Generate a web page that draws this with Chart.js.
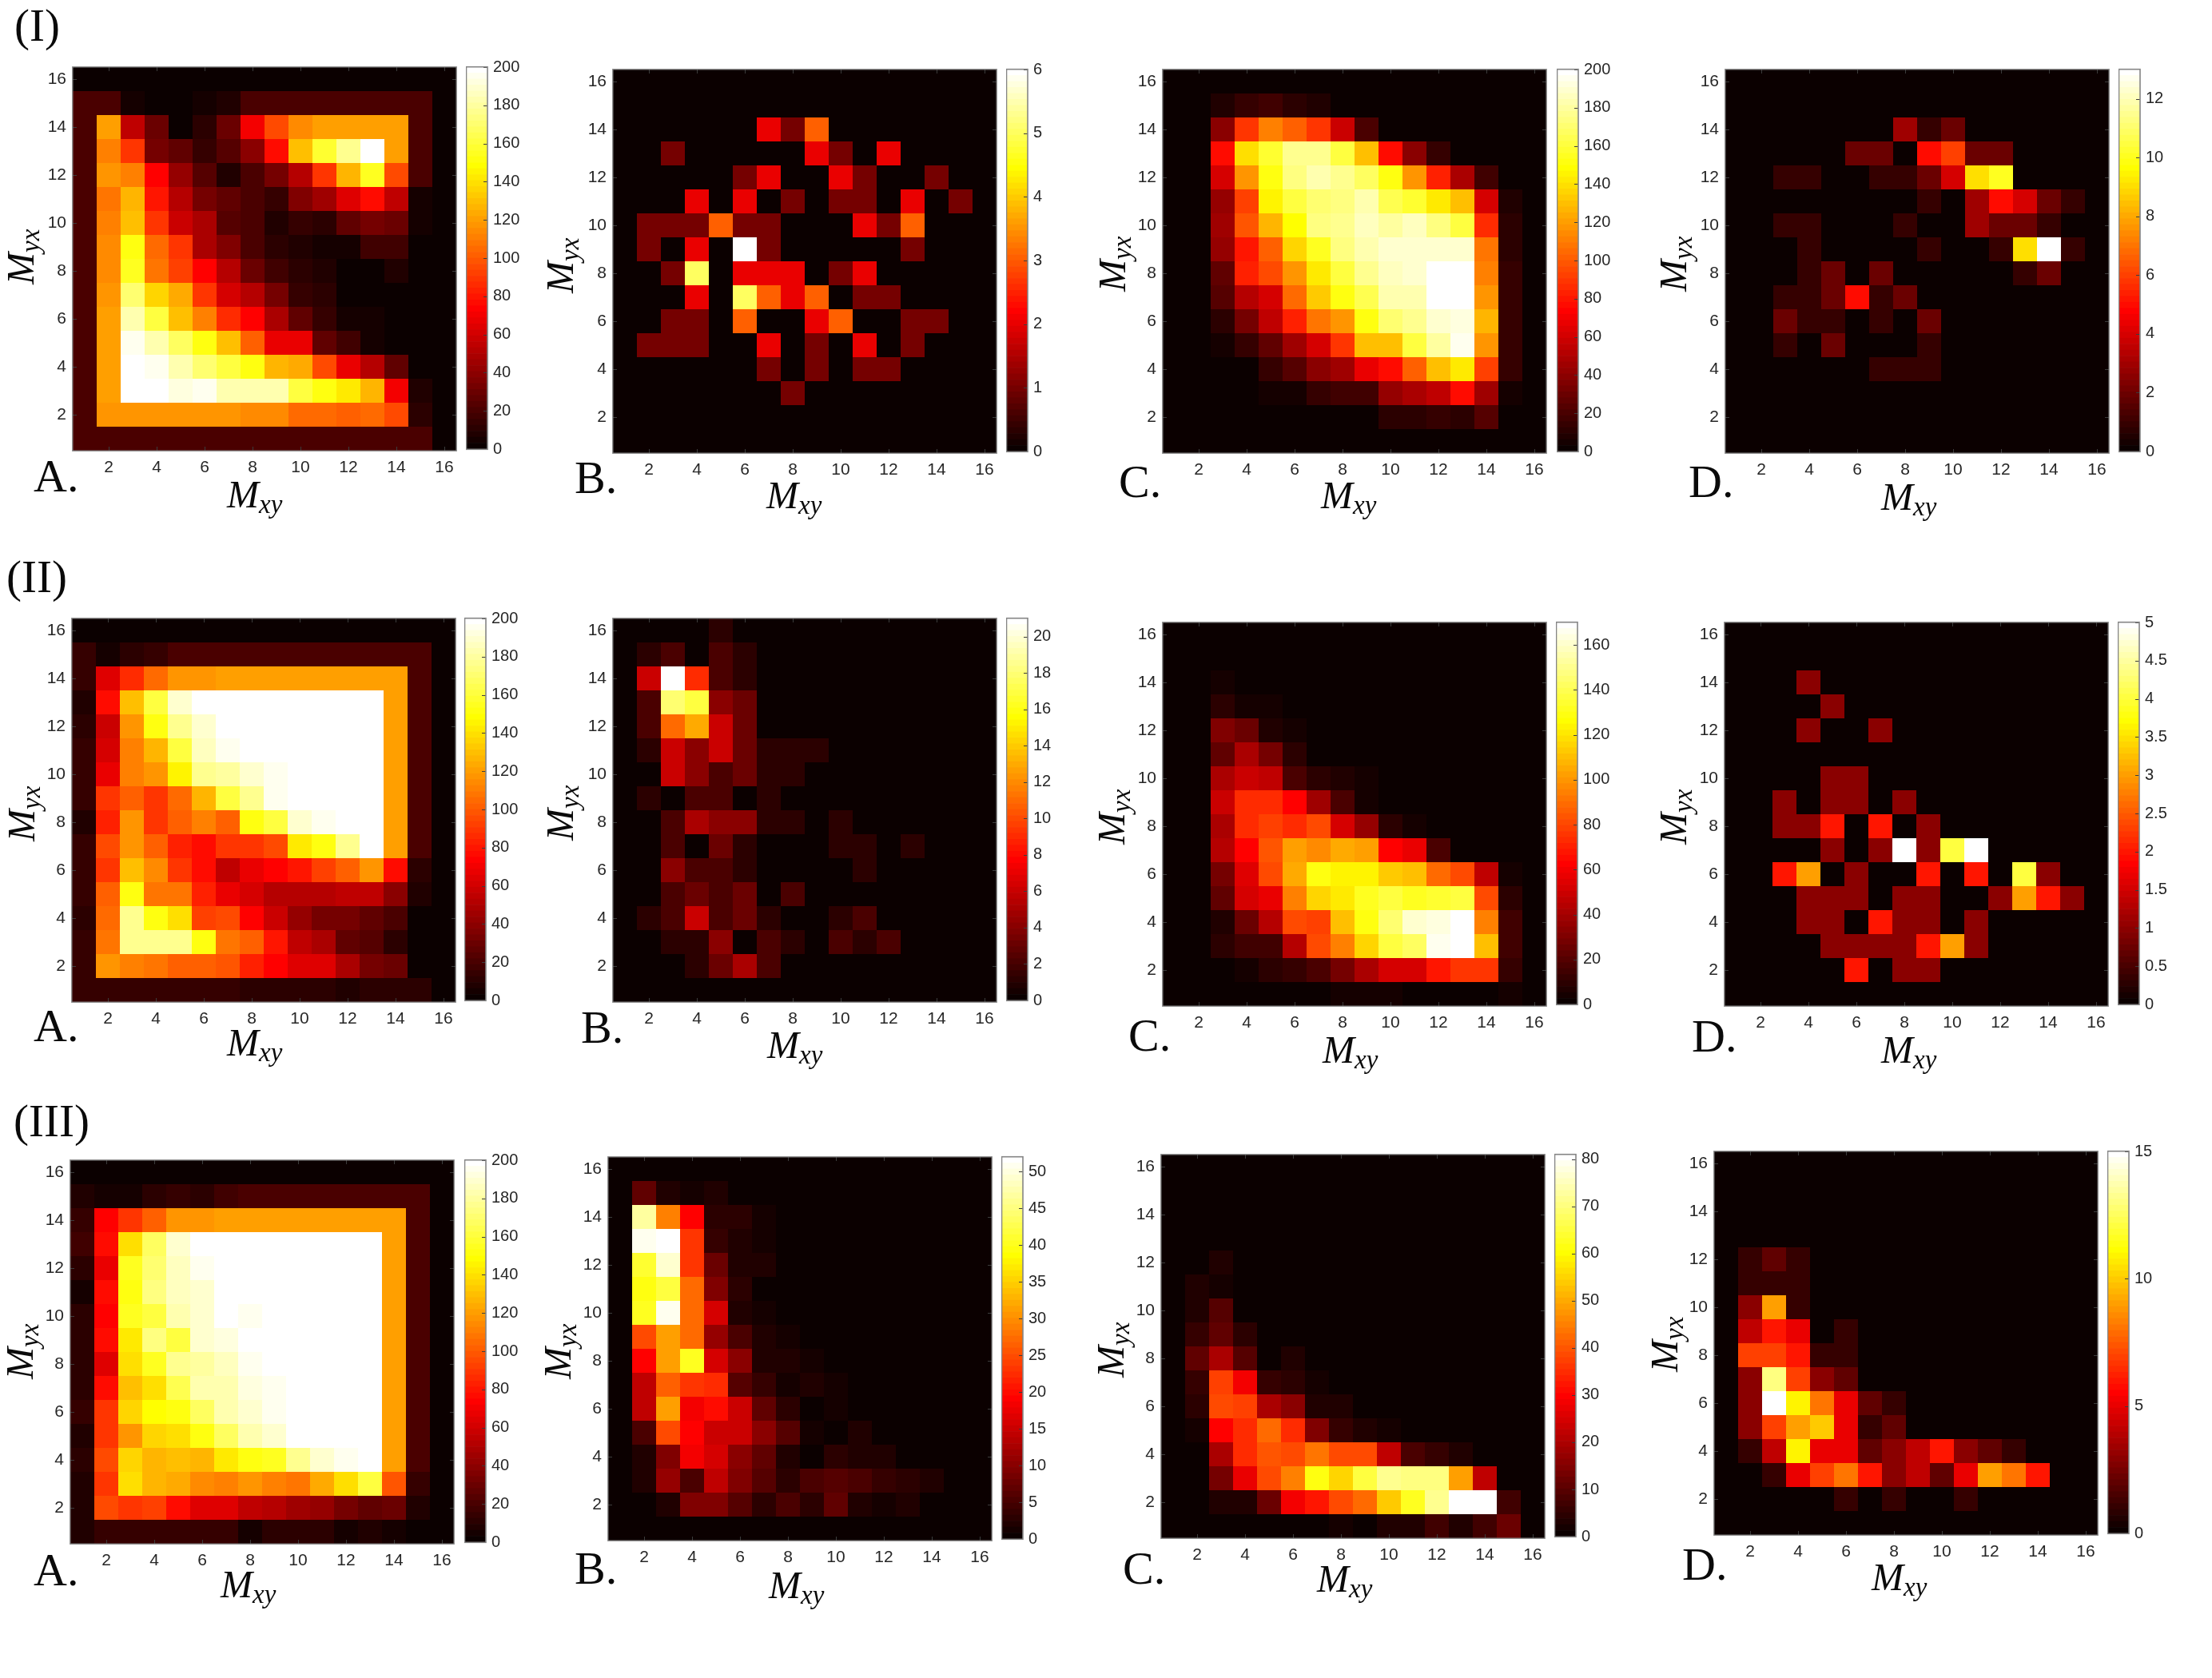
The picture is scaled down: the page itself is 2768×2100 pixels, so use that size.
<!DOCTYPE html>
<html><head><meta charset="utf-8">
<style>
html,body{margin:0;padding:0;background:#fff}
#page{position:relative;width:2768px;height:2100px;overflow:hidden;background:#fff}
canvas{position:absolute}
svg{position:absolute;left:0;top:0}
</style>
<script src="https://cdn.jsdelivr.net/npm/chart.js@4/dist/chart.umd.min.js"></script>
</head><body><div id="page"></div>
<script>
const xCategories = ['1','2','3','4','5','6','7','8','9','10','11','12','13','14','15','16'];
const yTickValues = [2,4,6,8,10,12,14,16];

// Every matrix: rows from Myx=16 (top) down to Myx=1, columns Mxy=1..16
const I_A = [
[2,2,2,2,2,2,2,2,2,2,2,2,2,2,2,2],
[20,20,5,2,2,5,8,20,20,20,20,20,20,20,20,2],
[20,120,55,30,3,10,30,70,95,115,120,120,120,120,20,2],
[20,110,90,32,25,14,22,40,75,130,158,178,200,120,20,2],
[20,118,112,72,42,22,8,20,32,52,88,128,155,95,20,2],
[20,108,125,80,50,32,25,20,14,35,45,64,75,55,5,2],
[20,112,130,88,58,48,24,20,8,14,10,26,32,30,5,2],
[20,115,150,105,90,48,36,20,10,8,5,6,16,16,2,2],
[20,114,155,108,92,72,52,30,16,10,8,2,0,8,2,2],
[20,118,170,135,122,88,60,50,32,14,10,2,0,0,0,0],
[20,120,182,160,130,112,85,72,48,26,14,5,5,0,0,0],
[20,120,194,184,168,152,130,100,68,68,28,18,5,0,0,0],
[20,120,200,196,182,170,160,152,128,122,95,66,52,26,0,0],
[20,120,200,200,192,195,184,182,182,160,152,142,125,70,8,0],
[20,118,118,118,118,118,116,114,114,104,104,100,104,94,12,0],
[20,20,20,20,20,20,20,20,20,20,20,20,20,20,20,2]];
const I_B = [
[0,0,0,0,0,0,0,0,0,0,0,0,0,0,0,0],
[0,0,0,0,0,0,0,0,0,0,0,0,0,0,0,0],
[0,0,0,0,0,0,2,1,3,0,0,0,0,0,0,0],
[0,0,1,0,0,0,0,0,2,1,0,2,0,0,0,0],
[0,0,0,0,0,1,2,0,0,2,1,0,0,1,0,0],
[0,0,0,2,0,2,0,1,0,1,1,0,2,0,1,0],
[0,1,1,1,3,1,1,0,0,0,2,1,3,0,0,0],
[0,1,0,2,0,6,1,0,0,0,0,0,1,0,0,0],
[0,0,1,5,0,2,2,2,0,1,2,0,0,0,0,0],
[0,0,0,2,0,5,3,2,3,0,1,1,0,0,0,0],
[0,0,1,1,0,3,0,0,2,3,0,0,1,1,0,0],
[0,1,1,1,0,0,2,0,1,0,2,0,1,0,0,0],
[0,0,0,0,0,0,1,0,1,0,1,1,0,0,0,0],
[0,0,0,0,0,0,0,1,0,0,0,0,0,0,0,0],
[0,0,0,0,0,0,0,0,0,0,0,0,0,0,0,0],
[0,0,0,0,0,0,0,0,0,0,0,0,0,0,0,0]];
const I_C = [
[0,0,0,0,0,0,0,0,0,0,0,0,0,0,0,0],
[0,0,8,14,18,12,8,0,0,0,0,0,0,0,0,0],
[0,0,38,88,110,102,90,58,20,3,0,0,0,0,0,0],
[0,0,78,140,158,178,176,160,130,76,38,14,0,0,0,0],
[0,0,62,118,150,172,184,176,166,150,118,84,48,16,0,0],
[0,0,42,92,145,160,170,174,182,165,158,142,130,62,8,0],
[0,0,44,98,125,148,172,178,186,180,186,172,162,85,10,0],
[0,0,42,80,100,135,155,172,184,188,190,190,190,108,12,0],
[0,0,28,82,96,118,142,162,176,186,188,197,200,112,14,0],
[0,0,22,50,62,105,132,150,165,182,184,197,200,118,14,0],
[0,0,12,32,55,82,108,118,152,170,176,190,192,125,14,0],
[0,0,5,14,28,45,62,88,130,130,162,180,195,116,14,0],
[0,0,0,0,14,22,38,44,68,76,100,130,142,92,14,0],
[0,0,0,0,5,5,14,16,16,42,48,56,76,46,6,0],
[0,0,0,0,0,0,0,0,3,10,10,14,10,22,0,0],
[0,0,0,0,0,0,0,0,0,0,0,0,0,0,0,0]];
const I_D = [
[0,0,0,0,0,0,0,0,0,0,0,0,0,0,0,0],
[0,0,0,0,0,0,0,0,0,0,0,0,0,0,0,0],
[0,0,0,0,0,0,0,3,1,2,0,0,0,0,0,0],
[0,0,0,0,0,2,2,0,5,6,2,2,0,0,0,0],
[0,0,1,1,0,0,1,1,2,4,9,10,0,0,0,0],
[0,0,0,0,0,0,0,0,1,0,3,5,4,2,1,0],
[0,0,1,1,0,0,0,1,0,0,3,2,2,1,0,0],
[0,0,0,1,0,0,0,0,1,0,0,1,9,13,1,0],
[0,0,0,1,2,0,2,0,0,0,0,0,1,2,0,0],
[0,0,1,1,2,5,1,2,0,0,0,0,0,0,0,0],
[0,0,2,1,1,0,1,0,2,0,0,0,0,0,0,0],
[0,0,1,0,2,0,0,0,1,0,0,0,0,0,0,0],
[0,0,0,0,0,0,1,1,1,0,0,0,0,0,0,0],
[0,0,0,0,0,0,0,0,0,0,0,0,0,0,0,0],
[0,0,0,0,0,0,0,0,0,0,0,0,0,0,0,0],
[0,0,0,0,0,0,0,0,0,0,0,0,0,0,0,0]];
const II_A = [
[2,2,2,2,2,2,2,2,2,2,2,2,2,2,2,2],
[14,5,10,14,20,20,20,20,20,20,20,20,20,20,20,2],
[14,64,85,105,118,118,120,120,120,120,120,120,120,120,20,2],
[8,75,130,162,188,200,200,200,200,200,200,200,200,120,20,2],
[12,58,118,150,178,190,200,200,200,200,200,200,200,120,20,2],
[14,62,110,125,162,185,195,200,200,200,200,200,200,120,20,2],
[14,66,110,118,145,176,180,190,195,200,200,200,200,120,20,2],
[14,88,100,88,105,128,160,178,195,200,200,200,200,120,20,2],
[8,84,118,90,100,110,102,150,162,188,194,200,200,120,20,2],
[14,95,116,100,84,78,90,88,94,142,150,178,200,120,20,2],
[14,90,130,115,90,78,56,68,72,80,92,102,118,78,12,2],
[14,102,150,108,108,84,66,60,50,50,52,54,54,40,8,2],
[10,106,176,152,138,92,96,72,58,42,32,32,28,20,0,0],
[14,108,178,176,176,152,108,100,80,56,48,28,24,10,0,0],
[14,118,112,108,102,102,98,84,72,64,64,48,32,30,0,0],
[14,14,14,14,14,14,14,10,10,10,10,8,10,12,12,0]];
const II_B = [
[0,0,0,0,1,0,0,0,0,0,0,0,0,0,0,0],
[0,1,2,0,2,1,0,0,0,0,0,0,0,0,0,0],
[0,6,21,9,2,1,0,0,0,0,0,0,0,0,0,0],
[0,2,18,17,4,3,0,0,0,0,0,0,0,0,0,0],
[0,2,11,13,6,3,0,0,0,0,0,0,0,0,0,0],
[0,1,6,4,6,3,1,1,1,0,0,0,0,0,0,0],
[0,0,6,4,2,3,1,1,0,0,0,0,0,0,0,0],
[0,1,0,2,2,0,1,0,0,0,0,0,0,0,0,0],
[0,0,2,5,4,4,1,1,0,1,0,0,0,0,0,0],
[0,0,2,0,3,1,0,0,0,1,1,0,1,0,0,0],
[0,0,4,2,2,1,0,0,0,0,1,0,0,0,0,0],
[0,0,2,3,2,3,0,2,0,0,0,0,0,0,0,0],
[0,1,2,6,2,3,1,0,0,1,2,0,0,0,0,0],
[0,0,1,1,4,0,2,1,0,2,1,2,0,0,0,0],
[0,0,0,1,3,5,2,0,0,0,0,0,0,0,0,0],
[0,0,0,0,0,0,0,0,0,0,0,0,0,0,0,0]];
const II_C = [
[0,0,0,0,0,0,0,0,0,0,0,0,0,0,0,0],
[0,0,0,0,0,0,0,0,0,0,0,0,0,0,0,0],
[0,0,3,0,0,0,0,0,0,0,0,0,0,0,0,0],
[0,0,10,3,3,0,0,0,0,0,0,0,0,0,0,0],
[0,0,30,24,7,3,0,0,0,0,0,0,0,0,0,0],
[0,0,22,42,28,8,0,0,0,0,0,0,0,0,0,0],
[0,0,40,50,46,16,8,6,3,0,0,0,0,0,0,0],
[0,0,48,72,72,62,38,18,5,0,0,0,0,0,0,0],
[0,0,40,72,78,72,82,52,36,8,3,0,0,0,0,0],
[0,0,44,62,84,102,96,104,102,62,58,16,0,0,0,0],
[0,0,28,54,82,104,128,124,124,112,110,88,80,46,5,0],
[0,0,22,52,56,94,116,122,132,136,132,134,136,80,8,0],
[0,0,6,26,44,80,78,110,128,146,160,164,170,94,14,0],
[0,0,8,14,14,44,80,94,115,136,142,166,170,110,14,0],
[0,0,0,3,8,12,16,28,40,52,52,68,76,76,12,0],
[0,0,0,0,0,0,0,3,3,4,0,0,0,0,5,0]];
const II_D = [
[0,0,0,0,0,0,0,0,0,0,0,0,0,0,0,0],
[0,0,0,0,0,0,0,0,0,0,0,0,0,0,0,0],
[0,0,0,1,0,0,0,0,0,0,0,0,0,0,0,0],
[0,0,0,0,1,0,0,0,0,0,0,0,0,0,0,0],
[0,0,0,1,0,0,1,0,0,0,0,0,0,0,0,0],
[0,0,0,0,0,0,0,0,0,0,0,0,0,0,0,0],
[0,0,0,0,1,1,0,0,0,0,0,0,0,0,0,0],
[0,0,1,0,1,1,0,1,0,0,0,0,0,0,0,0],
[0,0,1,1,2,0,2,0,1,0,0,0,0,0,0,0],
[0,0,0,0,1,0,1,5,1,4,5,0,0,0,0,0],
[0,0,2,3,0,1,0,0,2,0,2,0,4,1,0,0],
[0,0,0,1,1,1,0,1,1,0,0,1,3,2,1,0],
[0,0,0,1,1,0,2,1,1,0,1,0,0,0,0,0],
[0,0,0,0,1,1,1,1,2,3,1,0,0,0,0,0],
[0,0,0,0,0,2,0,1,1,0,0,0,0,0,0,0],
[0,0,0,0,0,0,0,0,0,0,0,0,0,0,0,0]];
const III_A = [
[2,2,2,2,2,2,2,2,2,2,2,2,2,2,2,2],
[8,5,5,10,14,12,18,20,20,20,20,20,20,20,20,2],
[14,72,88,102,118,118,120,120,120,120,120,120,120,120,20,2],
[16,76,140,168,188,200,200,200,200,200,200,200,200,120,20,2],
[10,66,155,170,186,194,200,200,200,200,200,200,200,120,20,2],
[5,76,150,172,186,190,200,200,200,200,200,200,200,120,20,2],
[12,72,155,162,184,190,200,196,200,200,200,200,200,120,20,2],
[12,78,142,174,162,190,192,200,200,200,200,200,200,120,20,2],
[10,64,138,155,178,180,186,194,200,200,200,200,200,120,20,2],
[10,75,130,138,165,182,184,192,194,200,200,200,200,120,20,2],
[14,88,135,148,152,168,182,190,196,200,200,200,200,120,20,2],
[8,88,118,136,140,152,168,182,188,198,200,200,200,120,20,2],
[10,94,135,126,130,126,142,152,155,176,190,194,200,120,20,2],
[8,90,140,126,122,114,110,116,112,108,124,140,160,98,14,2],
[8,96,90,92,76,64,64,56,52,46,42,32,28,30,8,2],
[8,14,14,14,14,14,14,5,10,10,10,5,8,5,2,2]];
const III_B = [
[0,0,0,0,0,0,0,0,0,0,0,0,0,0,0,0],
[0,7,2,1,2,0,0,0,0,0,0,0,0,0,0,0],
[0,47,29,19,3,3,1,0,0,0,0,0,0,0,0,0],
[0,51,52,23,4,2,1,0,0,0,0,0,0,0,0,0],
[0,41,49,23,8,2,2,0,0,0,0,0,0,0,0,0],
[0,39,42,27,9,3,0,0,0,0,0,0,0,0,0,0],
[0,40,51,27,16,2,1,0,0,0,0,0,0,0,0,0],
[0,25,31,27,11,5,2,1,0,0,0,0,0,0,0,0],
[0,19,31,40,16,10,2,2,1,0,0,0,0,0,0,0],
[0,14,26,23,22,6,4,1,2,1,0,0,0,0,0,0],
[0,14,31,18,20,15,7,3,0,1,0,0,0,0,0,0],
[0,5,25,19,15,15,10,6,1,0,2,0,0,0,0,0],
[0,2,9,18,16,10,7,2,0,3,2,2,0,0,0,0],
[0,2,11,5,14,9,6,3,5,6,5,4,3,2,0,0],
[0,0,2,9,9,6,3,5,3,7,2,1,2,0,0,0],
[0,0,0,0,0,0,0,0,0,0,0,0,0,0,0,0]];
const III_C = [
[0,0,0,0,0,0,0,0,0,0,0,0,0,0,0,0],
[0,0,0,0,0,0,0,0,0,0,0,0,0,0,0,0],
[0,0,0,0,0,0,0,0,0,0,0,0,0,0,0,0],
[0,0,0,0,0,0,0,0,0,0,0,0,0,0,0,0],
[0,1,3,0,0,0,0,0,0,0,0,0,0,0,0,0],
[0,3,2,0,0,0,0,0,0,0,0,0,0,0,0,0],
[0,3,10,1,0,0,0,0,0,0,0,0,0,0,0,0],
[0,6,11,4,1,0,0,0,0,0,0,0,0,0,0,0],
[0,11,19,10,1,3,0,0,0,0,0,0,0,0,0,0],
[0,6,37,29,6,4,2,0,0,0,0,0,0,0,0,0],
[0,5,38,37,20,16,3,3,1,0,0,0,0,0,0,0],
[0,2,30,35,42,35,14,6,3,2,0,0,0,0,0,0],
[0,1,20,35,40,38,44,38,39,22,8,6,3,0,0,0],
[0,0,13,27,39,45,61,55,65,72,70,70,49,22,0,0],
[0,0,3,3,12,28,32,38,42,54,63,72,81,81,7,0],
[0,0,0,0,0,0,1,2,0,3,3,7,3,7,12,0]];
const III_D = [
[0,0,0,0,0,0,0,0,0,0,0,0,0,0,0,0],
[0,0,0,0,0,0,0,0,0,0,0,0,0,0,0,0],
[0,0,0,0,0,0,0,0,0,0,0,0,0,0,0,0],
[0,0,0,0,0,0,0,0,0,0,0,0,0,0,0,0],
[0,1,2,1,0,0,0,0,0,0,0,0,0,0,0,0],
[0,1,1,1,0,0,0,0,0,0,0,0,0,0,0,0],
[0,3,9,1,0,0,0,0,0,0,0,0,0,0,0,0],
[0,4,6,5,0,1,0,0,0,0,0,0,0,0,0,0],
[0,7,7,6,1,1,0,0,0,0,0,0,0,0,0,0],
[0,3,13,7,3,2,0,0,0,0,0,0,0,0,0,0],
[0,3,15,11,8,5,2,1,0,0,0,0,0,0,0,0],
[0,3,7,9,10,5,1,2,0,0,0,0,0,0,0,0],
[0,1,4,11,5,5,2,3,4,6,3,2,1,0,0,0],
[0,0,1,5,7,8,6,3,4,2,5,9,8,6,0,0],
[0,0,0,0,0,1,0,1,0,0,1,0,0,0,0,0],
[0,0,0,0,0,0,0,0,0,0,0,0,0,0,0,0]];

// Colour bar limits and tick labels
const cbMax = {I_A:200,I_B:6,I_C:200,I_D:13,II_A:200,II_B:21,II_C:170,II_D:5,III_A:200,III_B:52,III_C:81,III_D:15};
const ticks200 = [0,20,40,60,80,100,120,140,160,180,200];
const cbTicks = {
  I_A:ticks200, I_B:[0,1,2,3,4,5,6], I_C:ticks200, I_D:[0,2,4,6,8,10,12],
  II_A:ticks200, II_B:[0,2,4,6,8,10,12,14,16,18,20], II_C:[0,20,40,60,80,100,120,140,160], II_D:[0,0.5,1,1.5,2,2.5,3,3.5,4,4.5,5],
  III_A:ticks200, III_B:[0,5,10,15,20,25,30,35,40,45,50], III_C:[0,10,20,30,40,50,60,70,80], III_D:[0,5,10,15]
};
const matrices = {I_A,I_B,I_C,I_D,II_A,II_B,II_C,II_D,III_A,III_B,III_C,III_D};

// Page layout, separate from the data
const layout = {
  I_A:  {L:91,  T:84,  cb:583,  let:'A.', lx:42,   ly:615,  mx:284,  my:635,  yb:42,   ys:356},
  I_B:  {L:767, T:87,  cb:1259, let:'B.', lx:719,  ly:617,  mx:959,  my:636,  yb:717,  ys:367},
  I_C:  {L:1455,T:87,  cb:1948, let:'C.', lx:1400, ly:622,  mx:1653, my:636,  yb:1408, ys:365},
  I_D:  {L:2159,T:87,  cb:2651, let:'D.', lx:2113, ly:622,  mx:2354, my:638,  yb:2110, ys:365},
  II_A: {L:90,  T:774, cb:581,  let:'A.', lx:42,   ly:1303, mx:284,  my:1321, yb:43,   ys:1053},
  II_B: {L:767, T:774, cb:1259, let:'B.', lx:727,  ly:1305, mx:960,  my:1324, yb:717,  ys:1052},
  II_C: {L:1455,T:779, cb:1947, let:'C.', lx:1412, ly:1315, mx:1655, my:1330, yb:1407, ys:1057},
  II_D: {L:2158,T:779, cb:2650, let:'D.', lx:2117, ly:1316, mx:2354, my:1330, yb:2110, ys:1057},
  III_A:{L:88,  T:1452,cb:581,  let:'A.', lx:42,   ly:1984, mx:276,  my:1999, yb:41,   ys:1726},
  III_B:{L:761, T:1448,cb:1253, let:'B.', lx:719,  ly:1982, mx:962,  my:2000, yb:714,  ys:1726},
  III_C:{L:1453,T:1445,cb:1945, let:'C.', lx:1405, ly:1982, mx:1648, my:1992, yb:1406, ys:1724},
  III_D:{L:2145,T:1441,cb:2637, let:'D.', lx:2105, ly:1977, mx:2342, my:1990, yb:2099, ys:1717}
};
const rowHeads = [['(I)',18,51],['(II)',8,741],['(III)',17,1422]];

const AXIS_FONT = {family:'"Liberation Sans", Arial, sans-serif', size:21};
const BAR_FONT = {family:'"Liberation Sans", Arial, sans-serif', size:20};
const TICK_COLOR = '#262626';

function hot(i){ // MATLAB hot(64)
  const c = x => Math.round(255*Math.max(0,Math.min(1,x)));
  return `rgb(${c((i+1)/24)},${c((i-23)/24)},${c((i-47)/16)})`;
}
function colorOf(v,max){ return hot(Math.min(63,Math.floor(v/max*64))); }

const heatFrame = {
  id:'heatFrame',
  afterDatasetsDraw(chart){
    const {ctx,chartArea:a,scales:{x,y}} = chart;
    ctx.save();
    ctx.strokeStyle='#3c3c3c'; ctx.lineWidth=1;
    ctx.beginPath();
    x.ticks.forEach((t,i)=>{ if((i+1)%2) return;
      const p=Math.round(x.getPixelForTick(i))+.5;
      ctx.moveTo(p,a.bottom); ctx.lineTo(p,a.bottom-5);
      ctx.moveTo(p,a.top); ctx.lineTo(p,a.top+5);
    });
    y.ticks.forEach(t=>{
      const p=Math.round(y.getPixelForValue(t.value))+.5;
      ctx.moveTo(a.left,p); ctx.lineTo(a.left+5,p);
      ctx.moveTo(a.right,p); ctx.lineTo(a.right-5,p);
    });
    ctx.stroke();
    ctx.strokeStyle='#858585'; ctx.lineWidth=1.4;
    ctx.strokeRect(a.left-.2,a.top-.2,a.right-a.left+.4,a.bottom-a.top+.4);
    ctx.restore();
  }
};
const barFrame = {
  id:'barFrame',
  afterDatasetsDraw(chart){
    const {ctx,chartArea:a,scales:{y}} = chart;
    ctx.save();
    ctx.strokeStyle='#3c3c3c'; ctx.lineWidth=1;
    ctx.beginPath();
    y.ticks.forEach(t=>{
      const p=Math.round(y.getPixelForValue(t.value))+.5;
      ctx.moveTo(a.right,p); ctx.lineTo(a.right-5,p);
    });
    ctx.stroke();
    ctx.strokeStyle='#858585'; ctx.lineWidth=1.6;
    ctx.strokeRect(a.left+.5,a.top-.3,a.right-a.left-.5,a.bottom-a.top+.6);
    ctx.restore();
  }
};

const page = document.getElementById('page');
function addCanvas(left,top,w,h){
  const c=document.createElement('canvas');
  c.width=w;c.height=h;
  c.style.left=left+'px';c.style.top=top+'px';c.style.width=w+'px';c.style.height=h+'px';
  page.appendChild(c);
  return c;
}
function noPad(s){s.paddingTop=0;s.paddingBottom=0;s.paddingLeft=0;s.paddingRight=0;}

const PLOT=480, MARGIN_L=60, MARGIN_B=44, PAD=3;
function drawHeat(key){
  const g=layout[key], rows=matrices[key], max=cbMax[key];
  const cv=addCanvas(g.L-MARGIN_L,g.T-PAD,MARGIN_L+PLOT+PAD,PAD+PLOT+MARGIN_B);
  new Chart(cv,{
    type:'bar',
    data:{labels:xCategories,datasets:rows.map((row,r)=>{
      const y=16-r;
      return {label:'Myx='+y,
        data:row.map(()=>[y-.5,y+.5]),
        backgroundColor:row.map(v=>colorOf(v,max)),
        borderWidth:0,inflateAmount:0,grouped:false,barPercentage:1,categoryPercentage:1};
    })},
    options:{
      responsive:false,animation:false,devicePixelRatio:1,
      layout:{padding:{top:PAD,right:PAD,left:0,bottom:0}},
      plugins:{legend:{display:false},tooltip:{enabled:false},title:{display:false}},
      scales:{
        x:{grid:{display:false,drawTicks:false},border:{display:false},
           afterFit(s){s.height=MARGIN_B;noPad(s);},
           ticks:{autoSkip:false,maxRotation:0,minRotation:0,padding:9,font:AXIS_FONT,color:TICK_COLOR,
             callback(v,i){return (i+1)%2?'':xCategories[i];}}},
        y:{min:.5,max:16.5,grid:{display:false,drawTicks:false},border:{display:false},
           afterFit(s){s.width=MARGIN_L;noPad(s);},
           afterBuildTicks(s){s.ticks=yTickValues.map(value=>({value}));},
           ticks:{autoSkip:false,padding:8,font:AXIS_FONT,color:TICK_COLOR,callback:v=>String(v)}}
      }
    },
    plugins:[heatFrame]
  });
}
const CB_W=27, CB_H=478, CB_R=62, CB_PAD=14;
function drawBar(key){
  const g=layout[key], max=cbMax[key], tk=cbTicks[key];
  const cv=addCanvas(g.cb,g.T-CB_PAD,CB_W+CB_R,CB_H+2*CB_PAD);
  const levels=[...Array(64).keys()];
  new Chart(cv,{
    type:'bar',
    data:{labels:['hot'],datasets:levels.map(i=>({
      label:'level '+i,data:[[max*i/64,max*(i+1)/64]],backgroundColor:hot(i),
      borderWidth:0,grouped:false,barPercentage:1,categoryPercentage:1}))},
    options:{
      responsive:false,animation:false,devicePixelRatio:1,
      layout:{padding:{top:CB_PAD,bottom:CB_PAD,left:0,right:0}},
      plugins:{legend:{display:false},tooltip:{enabled:false}},
      scales:{
        x:{display:false},
        y:{position:'right',min:0,max:max,grid:{display:false,drawTicks:false},border:{display:false},
           afterFit(s){s.width=CB_R;noPad(s);},
           afterBuildTicks(s){s.ticks=tk.map(value=>({value}));},
           ticks:{autoSkip:false,padding:7,font:BAR_FONT,color:TICK_COLOR,callback:v=>String(v)}}
      }
    },
    plugins:[barFrame]
  });
}
Object.keys(matrices).forEach(k=>{drawHeat(k);drawBar(k);});

// Text overlay
const NS='http://www.w3.org/2000/svg';
const svg=document.createElementNS(NS,'svg');
svg.setAttribute('width',2768);svg.setAttribute('height',2100);
page.appendChild(svg);
const SERIF='"Liberation Serif","Times New Roman",serif';
function text(x,y,str,size){
  const t=document.createElementNS(NS,'text');
  t.setAttribute('x',x);t.setAttribute('y',y);
  t.setAttribute('font-family',SERIF);t.setAttribute('font-size',size);
  t.setAttribute('fill','#0a0a0a');
  t.textContent=str;svg.appendChild(t);return t;
}
function mathLabel(x,y,sub,rotate){
  const t=document.createElementNS(NS,'text');
  t.setAttribute('font-family',SERIF);t.setAttribute('font-style','italic');
  t.setAttribute('fill','#0a0a0a');t.setAttribute('font-size',48);
  if(rotate) t.setAttribute('transform',`translate(${x},${y}) rotate(-90)`);
  else {t.setAttribute('x',x);t.setAttribute('y',y);}
  const a=document.createElementNS(NS,'tspan');a.textContent='M';t.appendChild(a);
  const b=document.createElementNS(NS,'tspan');b.textContent=sub;
  b.setAttribute('font-size',33);b.setAttribute('dy',7);t.appendChild(b);
  svg.appendChild(t);
}
rowHeads.forEach(([s,x,y])=>text(x,y,s,57));
Object.values(layout).forEach(g=>{
  text(g.lx,g.ly,g.let,58);
  mathLabel(g.mx,g.my,'xy',false);
  mathLabel(g.yb,g.ys,'yx',true);
});
</script></body></html>
